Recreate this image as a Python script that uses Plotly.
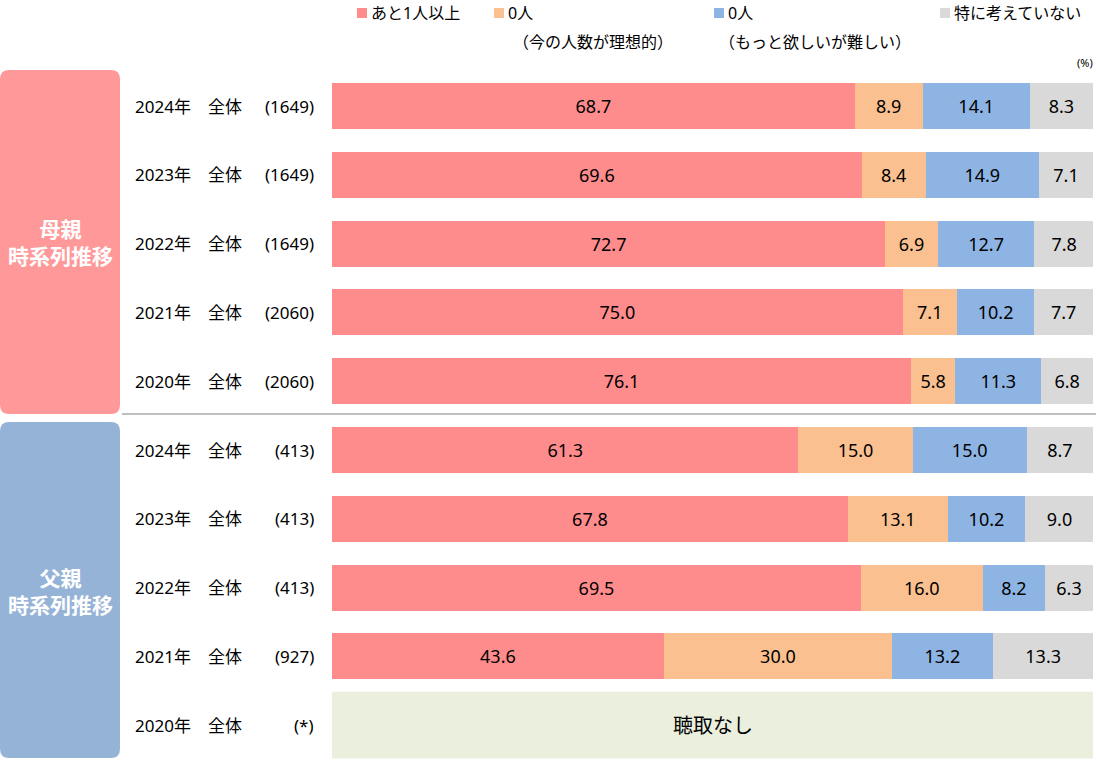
import plotly.graph_objects as go

FONT = "Noto Sans, Noto Sans CJK JP"

# rows top to bottom: mothers then fathers
years = ["2024年", "2023年", "2022年", "2021年", "2020年",
         "2024年", "2023年", "2022年", "2021年", "2020年"]
groups = ["全体"] * 10
sample_n = ["(1649)", "(1649)", "(1649)", "(2060)", "(2060)",
            "(413)", "(413)", "(413)", "(927)", "(*)"]

more_one = [68.7, 69.6, 72.7, 75.0, 76.1, 61.3, 67.8, 69.5, 43.6, None]
zero_ideal = [8.9, 8.4, 6.9, 7.1, 5.8, 15.0, 13.1, 16.0, 30.0, None]
zero_hard = [14.1, 14.9, 12.7, 10.2, 11.3, 15.0, 10.2, 8.2, 13.2, None]
no_idea = [8.3, 7.1, 7.8, 7.7, 6.8, 8.7, 9.0, 6.3, 13.3, None]

series_names = ["あと1人以上", "0人（今の人数が理想的）", "0人（もっと欲しいが難しい）", "特に考えていない"]
series_colors = ["#FF8C8C", "#FAC090", "#8EB4E3", "#D9D9D9"]

W, H = 1096, 760
X0, X1 = 332, 1093
ROW0, STEP = 106, 68.8
BAR_W = 46 / STEP

rows = list(range(len(years)))

fig = go.Figure()
for name, vals, col in zip(series_names, [more_one, zero_ideal, zero_hard, no_idea], series_colors):
    fig.add_trace(go.Bar(
        x=vals, y=rows, orientation="h", name=name,
        marker=dict(color=col, line=dict(width=0)),
        width=BAR_W,
        texttemplate="%{x:.1f}", textposition="inside",
        insidetextanchor="middle", textangle=0, constraintext="none",
        textfont=dict(family=FONT, size=18, color="#000000"),
        hoverinfo="x+name",
    ))

def px(x):
    return x / W

def py(y):
    return 1 - y / H

shapes = []
annotations = []

def label(x, y, text, size, xanchor="center", yanchor="middle", color="#000", xref="paper", yref="paper"):
    annotations.append(dict(xref=xref, yref=yref, x=x, y=y, text=text,
                            xanchor=xanchor, yanchor=yanchor, showarrow=False,
                            font=dict(family=FONT, size=size, color=color), align="center"))

# rounded side panels
def rounded(x0, y0, x1, y1, r, color):
    a, b, c, d = px(x0), py(y0), px(x1), py(y1)
    rx, ry = r / W, r / H
    path = (f"M {a+rx},{b} L {c-rx},{b} Q {c},{b} {c},{b-ry} "
            f"L {c},{d+ry} Q {c},{d} {c-rx},{d} L {a+rx},{d} "
            f"Q {a},{d} {a},{d+ry} L {a},{b-ry} Q {a},{b} {a+rx},{b} Z")
    return dict(type="path", xref="paper", yref="paper", path=path,
                fillcolor=color, line=dict(width=0), layer="below")

shapes.append(rounded(0, 70, 120, 414, 9, "#FF9999"))
shapes.append(rounded(0, 422, 120, 758, 9, "#95B3D7"))
label(px(60), py(242), "<b>母親<br>時系列推移</b>", 21, color="white")
label(px(60), py(591), "<b>父親<br>時系列推移</b>", 21, color="white")

# separator
shapes.append(dict(type="line", xref="paper", yref="paper", x0=px(122), x1=1,
                   y0=py(414), y1=py(414), line=dict(color="#808080", width=1)))

# no-data box for fathers 2020
shapes.append(dict(type="rect", xref="x", yref="y", x0=-0.6, x1=100, y0=9 - 0.485, y1=9 + 0.485,
                   fillcolor="#EBEFDE", line=dict(width=0), layer="below"))
label(50, 9, "聴取なし", 20, xref="x", yref="y")

# row labels
for i in rows:
    label(px(133), i, years[i], 17, xanchor="left", yref="y")
    label(px(206), i, groups[i], 17, xanchor="left", yref="y")
    label(px(316), i, sample_n[i], 17, xanchor="right", yref="y")

# custom legend
legend_items = [
    (357, "あと1人以上", None, None),
    (494, "0人", "（今の人数が理想的）", 593),
    (714, "0人", "（もっと欲しいが難しい）", 815),
    (940, "特に考えていない", None, None),
]
for (lx, top, sub, subx), col in zip(legend_items, series_colors):
    shapes.append(dict(type="rect", xref="paper", yref="paper",
                       x0=px(lx), x1=px(lx + 10), y0=py(18), y1=py(8),
                       fillcolor=col, line=dict(width=0)))
    label(px(lx + 12), py(13), top, 16, xanchor="left")
    if sub:
        label(px(subx), py(42), sub, 16)
label(px(1095), py(62), "(%)", 11, xanchor="right")

fig.update_layout(
    width=W, height=H,
    barmode="stack",
    margin=dict(l=0, r=0, t=0, b=0),
    paper_bgcolor="white", plot_bgcolor="white",
    showlegend=False,
    xaxis=dict(domain=[px(X0), px(X1)], range=[0, 100], visible=False, fixedrange=True),
    yaxis=dict(range=[(H - ROW0) / STEP, -ROW0 / STEP], visible=False, fixedrange=True),
    shapes=shapes,
    annotations=annotations,
    font=dict(family=FONT),
)

fig.write_html("out.html", config={"displayModeBar": False},
               post_script="document.body.style.margin='0';")
